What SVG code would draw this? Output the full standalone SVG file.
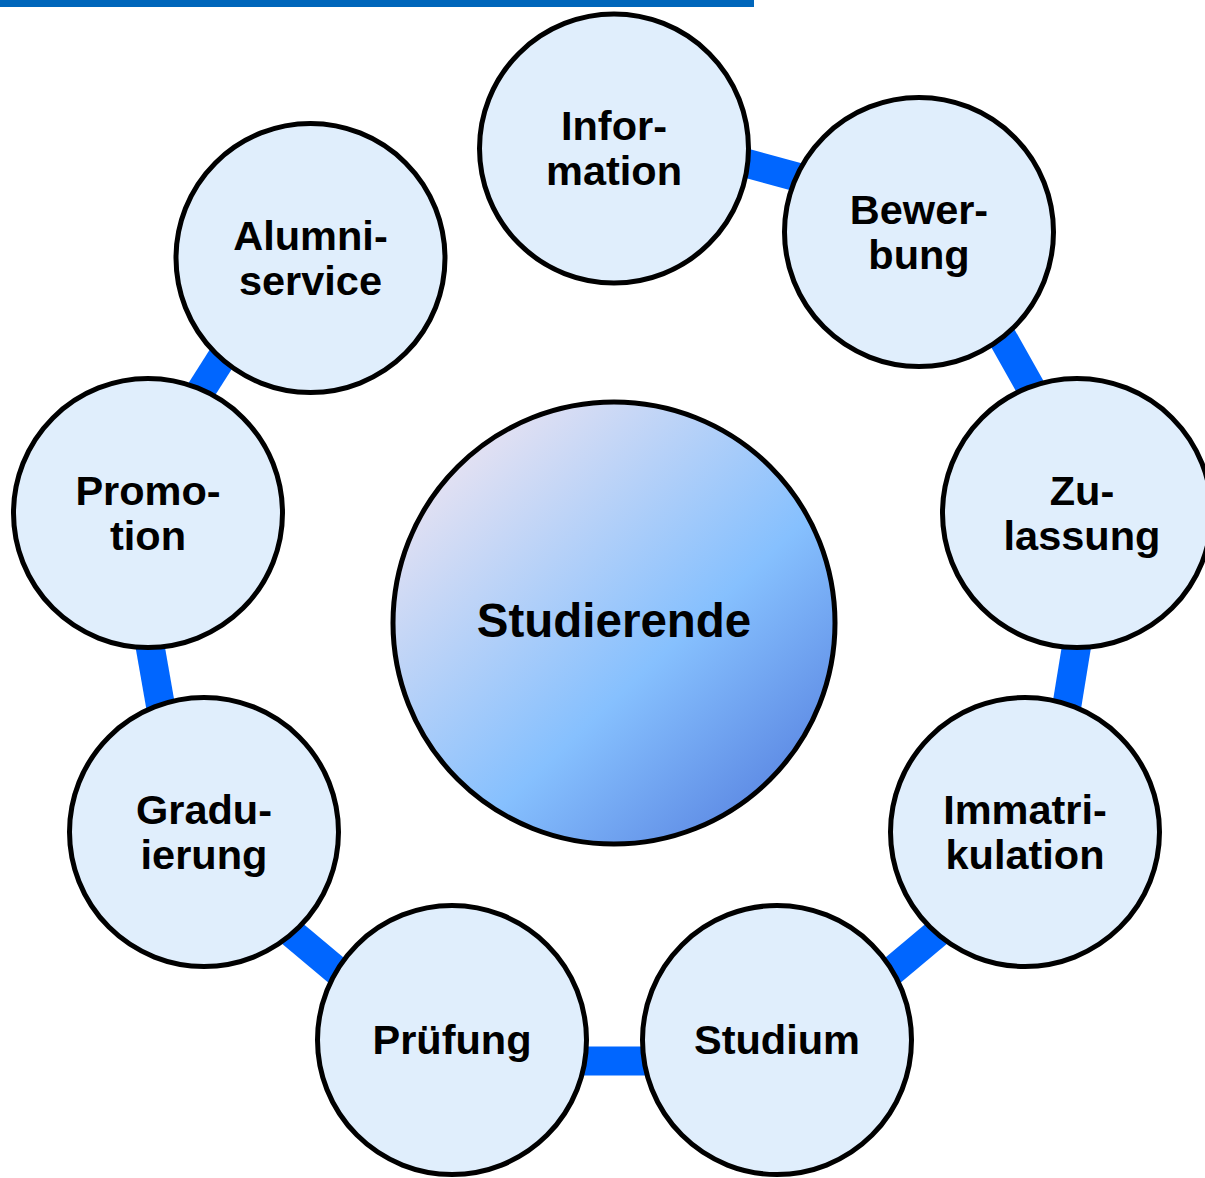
<svg xmlns="http://www.w3.org/2000/svg" width="1205" height="1178" viewBox="0 0 1205 1178">
<defs>
<linearGradient id="cg" x1="0.15" y1="0.1" x2="0.9" y2="0.9">
<stop offset="0" stop-color="#E6E2F2"/>
<stop offset="0.6" stop-color="#86C0FE"/>
<stop offset="1" stop-color="#5A86E2"/>
</linearGradient>
<style>
.node{fill:#E0EEFC;stroke:#000;stroke-width:5}
.lbl{font-family:"Liberation Sans",Arial,sans-serif;font-weight:bold;font-size:41.5px;fill:#000;text-anchor:middle}
.conn{stroke:#0066FF;stroke-width:29;fill:none;stroke-linecap:butt}
</style>
</defs>
<rect x="0" y="0" width="754" height="7" fill="#0066BB"/>
<g id="connectors" class="conn">
<path d="M619.5,128.7 L924.5,211.7"/>
<path d="M937.3,221.7 L1095.3,502.7"/>
<path d="M1097.7,516.4 L1045.7,835.4"/>
<path d="M1038.5,848.1 L790.5,1056.1"/>
<path d="M777,1061 L452,1061"/>
<path d="M438.5,1056.1 L190.5,848.1"/>
<path d="M183.3,835.6 L127.3,516.6"/>
<path d="M130.3,501.7 L292.3,246.7"/>
</g>
<g id="center">
<circle cx="614" cy="623" r="221" fill="url(#cg)" stroke="#000" stroke-width="5"/>
<text class="lbl" x="614" y="637" style="font-size:47.5px">Studierende</text>
</g>
<g id="information">
<circle class="node" cx="614" cy="148.5" r="134.5"/>
<text class="lbl" x="614" y="140">Infor-</text>
<text class="lbl" x="614" y="185">mation</text>
</g>
<g id="bewerbung">
<circle class="node" cx="919" cy="232" r="134.5"/>
<text class="lbl" x="919" y="224">Bewer-</text>
<text class="lbl" x="919" y="269">bung</text>
</g>
<g id="zulassung">
<circle class="node" cx="1077" cy="513" r="134.5"/>
<text class="lbl" x="1082" y="505">Zu-</text>
<text class="lbl" x="1082" y="550">lassung</text>
</g>
<g id="immatrikulation">
<circle class="node" cx="1025" cy="832" r="134.5"/>
<text class="lbl" x="1025" y="824">Immatri-</text>
<text class="lbl" x="1025" y="869">kulation</text>
</g>
<g id="studium">
<circle class="node" cx="777" cy="1040" r="134.5"/>
<text class="lbl" x="777" y="1053.5">Studium</text>
</g>
<g id="pruefung">
<circle class="node" cx="452" cy="1040" r="134.5"/>
<text class="lbl" x="452" y="1053.5">Prüfung</text>
</g>
<g id="graduierung">
<circle class="node" cx="204" cy="832" r="134.5"/>
<text class="lbl" x="204" y="824">Gradu-</text>
<text class="lbl" x="204" y="869">ierung</text>
</g>
<g id="promotion">
<circle class="node" cx="148" cy="513" r="134.5"/>
<text class="lbl" x="148" y="505">Promo-</text>
<text class="lbl" x="148" y="550">tion</text>
</g>
<g id="alumniservice">
<circle class="node" cx="310.5" cy="258" r="134.5"/>
<text class="lbl" x="310.5" y="250">Alumni-</text>
<text class="lbl" x="310.5" y="295">service</text>
</g>
</svg>
